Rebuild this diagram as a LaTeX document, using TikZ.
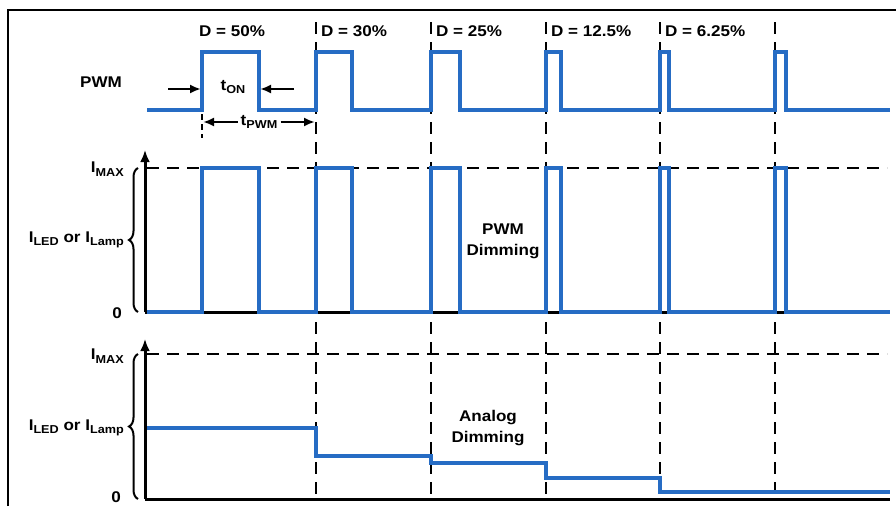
\documentclass[tikz,border=0pt]{standalone}
\usepackage{fontspec}
\setmainfont{Liberation Sans}[FakeStretch=1.1]
\usetikzlibrary{arrows.meta,decorations.pathreplacing}
\definecolor{sigblue}{RGB}{38,108,196}
\newcommand{\lowtext}[1]{\raisebox{-0.45ex}{\fontsize{11.5}{12}\selectfont #1}}
\tikzset{
  sig/.style={line width=4.5pt, draw=sigblue},
  guide/.style={line width=2.5pt, dash pattern=on 12pt off 8pt},
  axis/.style={line width=3pt, -{Latex[length=12pt,width=10pt]}},
  lbl/.style={font=\fontsize{15.5}{21}\selectfont\bfseries, inner sep=0pt},
  brc/.style={decorate, decoration={brace, amplitude=9pt}, line width=2pt},
  tip/.style={line width=2.5pt, -{Latex[length=11pt,width=9pt]}}
}

\begin{document}
\begin{tikzpicture}[x=1pt, y=-1pt]
    \useasboundingbox (0,0) rectangle (896,506);

    % 枠
    \draw[line width=2.5pt] (8,506) -- (8,10) -- (896,10);

    % 破線
    \foreach \x in {316,431,546,660,775}
      \draw[guide] (\x,22) -- (\x,499);
    \draw[guide, dash pattern=on 6pt off 4pt] (202,114) -- (202,138);
    \draw[guide] (147,168) -- (887,168);
    \draw[guide] (147,354) -- (887,354);

    % ラベル
    \node[lbl] (pwm) at (101,82) {PWM};
    \node[lbl] (d50) at (232,31) {D = 50\%};
    \node[lbl, anchor=west] (d30) at (321,31) {D = 30\%};
    \node[lbl, anchor=west] (d25) at (436,31) {D = 25\%};
    \node[lbl, anchor=west] (d125) at (551,31) {D = 12.5\%};
    \node[lbl, anchor=west] (d625) at (665,31) {D = 6.25\%};
    \node[lbl] (ton) at (233,87) {t\lowtext{ON}};
    \node[lbl, inner xsep=3pt] (tpwm) at (259,122) {t\lowtext{PWM}};

    \node[lbl, anchor=east] (imax1) at (124,169) {I\lowtext{MAX}};
    \node[lbl, anchor=east] (iled1) at (124,240) {I\lowtext{LED} or I\lowtext{Lamp}};
    \node[lbl, anchor=east] (zero1) at (122,313) {0};
    \node[lbl, align=center] (pwmdim) at (503,241) {PWM\\Dimming};

    \node[lbl, anchor=east] (imax2) at (124,356) {I\lowtext{MAX}};
    \node[lbl, anchor=east] (iled2) at (124,428) {I\lowtext{LED} or I\lowtext{Lamp}};
    \node[lbl, anchor=east] (zero2) at (121,497) {0};
    \node[lbl, align=center] (anadim) at (488,428) {Analog\\Dimming};

    % 矢印
    \coordinate (on1) at (168,89);
    \coordinate (rise1) at (201,89);
    \coordinate (on2) at (294,89);
    \coordinate (fall1) at (260,89);
    \draw[tip] (on1) -- (rise1);
    \draw[tip] (on2) -- (fall1);
    \coordinate (per1) at (203,122);
    \coordinate (per2) at (315,122);
    \draw[tip] (tpwm) -- (per1);
    \draw[tip] (tpwm) -- (per2);

    % 軸
    \coordinate (o1) at (145,312);
    \coordinate (top1) at (145,150);
    \coordinate (end1) at (890,312);
    \draw[axis] (o1) -- (top1);
    \draw[line width=3pt] (o1) -- (end1);
    \coordinate (o2) at (145,499);
    \coordinate (top2) at (145,339);
    \coordinate (end2) at (890,499);
    \draw[axis] (o2) -- (top2);
    \draw[line width=3pt] (o2) -- (end2);
    \draw[brc] (138,312) -- (138,168);
    \draw[brc] (138,499) -- (138,354);

    % 信号
    \draw[sig] (147,110) -| (202,52) -| (259,110) -| (316,52) -| (352,110)
      -| (431,52) -| (460,110) -| (546,52) -| (561,110) -| (660,52)
      -| (669,110) -| (775,52) -| (786,110) -- (890,110);
    \draw[sig] (147,312) -| (202,168) -| (259,312) -| (316,168) -| (352,312)
      -| (431,168) -| (460,312) -| (546,168) -| (561,312) -| (660,168)
      -| (669,312) -| (775,168) -| (786,312) -- (890,312);
    \draw[sig] (147,428) -| (316,456) -| (431,463) -| (546,478) -| (660,492)
      -- (890,492);
  \end{tikzpicture}
\end{document}
